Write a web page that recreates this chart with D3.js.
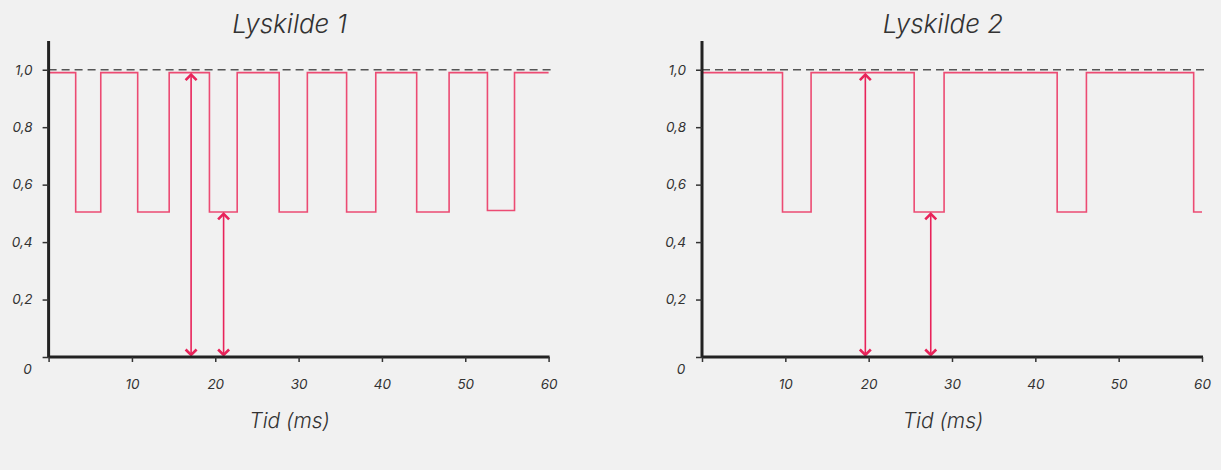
<!DOCTYPE html>
<html>
<head>
<meta charset="utf-8">
<script src="https://cdn.jsdelivr.net/npm/d3@7"></script>
<style>
  body { margin: 0; background: #f1f1f1; }
  svg { display: block; }
  text { font-family: Inter, "Open Sans", sans-serif; font-style: italic; font-weight: 300; fill: #333; }
</style>
</head>
<body>
<svg width="1221" height="470"></svg>
<script>
// tick values
var xTicks = [0, 10, 20, 30, 40, 50, 60];
var yTicks = [0, 0.2, 0.4, 0.6, 0.8, 1.0];

// Lyskilde 1: switch times (ms) and level of each segment
var times1 = [0, 3.25, 6.26, 10.69, 14.47, 19.3, 22.63, 27.67, 31.05, 35.76, 39.26, 44.17, 48.06, 52.66, 55.91, 60];
var levels1 = [0.99, 0.505, 0.99, 0.505, 0.99, 0.505, 0.99, 0.505, 0.99, 0.505, 0.99, 0.505, 0.99, 0.51, 0.99];
var arrows1 = [[17.1, 0.99], [21.0, 0.505]];

// Lyskilde 2
var times2 = [0, 9.66, 13.09, 25.46, 29.05, 42.62, 46.13, 59.0, 60];
var levels2 = [0.99, 0.505, 0.99, 0.505, 0.99, 0.505, 0.99, 0.505];
var arrows2 = [[19.6, 0.99], [27.45, 0.505]];

var svg = d3.select("svg");
var nb = d3.formatLocale({decimal: ",", thousands: ".", grouping: [3], currency: ["", ""]});
var fmt = nb.format(".1f");

var lineCol = "#ec4b73", arrowCol = "#e8235a";

function panel(title, left, times, levels, arrows) {
  var x = d3.scaleLinear().domain([0, 60]).range([left, left + 500]);
  var y = d3.scaleLinear().domain([0, 1.1]).range([357, 41]);
  var g = svg.append("g");

  // reference line at 1,0
  g.append("line")
    .attr("x1", x(0)).attr("x2", x(60) + 3)
    .attr("y1", y(1)).attr("y2", y(1))
    .attr("stroke", "#555").attr("stroke-width", 1.5)
    .attr("stroke-dasharray", "8,5");

  // signal
  var pts = levels.map(function(l, i) { return [times[i], l]; });
  pts.push([times[times.length - 1], levels[levels.length - 1]]);
  g.append("path")
    .datum(pts)
    .attr("fill", "none")
    .attr("stroke", lineCol)
    .attr("stroke-width", 1.6)
    .attr("d", d3.line()
      .x(function(d) { return x(d[0]); })
      .y(function(d) { return y(d[1]); })
      .curve(d3.curveStepAfter));

  // double arrows
  arrows.forEach(function(a) {
    var ax = x(a[0]), top = y(a[1]) + 2, bot = y(0) - 2;
    g.append("line")
      .attr("x1", ax).attr("x2", ax).attr("y1", top).attr("y2", bot)
      .attr("stroke", arrowCol).attr("stroke-width", 1.6);
    g.append("path")
      .attr("d", "M" + (ax - 5.5) + "," + (top + 5.5) + "L" + ax + "," + top + "L" + (ax + 5.5) + "," + (top + 5.5) +
                 "M" + (ax - 5.5) + "," + (bot - 5.5) + "L" + ax + "," + bot + "L" + (ax + 5.5) + "," + (bot - 5.5))
      .attr("fill", "none").attr("stroke", arrowCol).attr("stroke-width", 2.6);
  });

  // x axis
  var xa = g.append("g")
    .attr("transform", "translate(0," + y(0) + ")")
    .call(d3.axisBottom(x).tickValues(xTicks).tickSize(5).tickPadding(17)
      .tickFormat(function(d) { return d === 0 ? "" : d; }));
  // y axis
  var ya = g.append("g")
    .attr("transform", "translate(" + x(0) + ",0)")
    .call(d3.axisLeft(y).tickValues(yTicks).tickSize(6).tickPadding(10)
      .tickFormat(function(d) { return d === 0 ? "0" : fmt(d); }));
  ya.selectAll(".tick").filter(function(d) { return d === 0; }).select("text")
    .attr("x", -21).attr("dy", "1.2em").attr("text-anchor", "middle");

  [xa, ya].forEach(function(a) {
    a.select(".domain").attr("stroke", "#222").attr("stroke-width", 3);
    a.selectAll(".tick line").attr("stroke", "#333").attr("stroke-width", 1.5);
    a.selectAll(".tick text").attr("fill", "#4a4a4a").style("font-size", "13.5px")
      .style("font-family", "Inter, sans-serif").style("font-style", "italic").style("font-weight", 400);
  });
  xa.select(".domain").attr("d", "M" + x(0) + ",0H" + (x(60) + 1));
  ya.select(".domain").attr("d", "M0," + y(1.1) + "V" + y(0));

  var cx = (x(0) + x(60)) / 2 - 9;
  g.append("text")
    .attr("x", cx).attr("y", 33)
    .attr("text-anchor", "middle")
    .style("font-size", "26px")
    .text(title);
  g.append("text")
    .attr("x", cx).attr("y", 428)
    .attr("text-anchor", "middle")
    .style("font-size", "21px")
    .text("Tid (ms)");
}

panel("Lyskilde 1", 48.6, times1, levels1, arrows1);
panel("Lyskilde 2", 702, times2, levels2, arrows2);
</script>
</body>
</html>
